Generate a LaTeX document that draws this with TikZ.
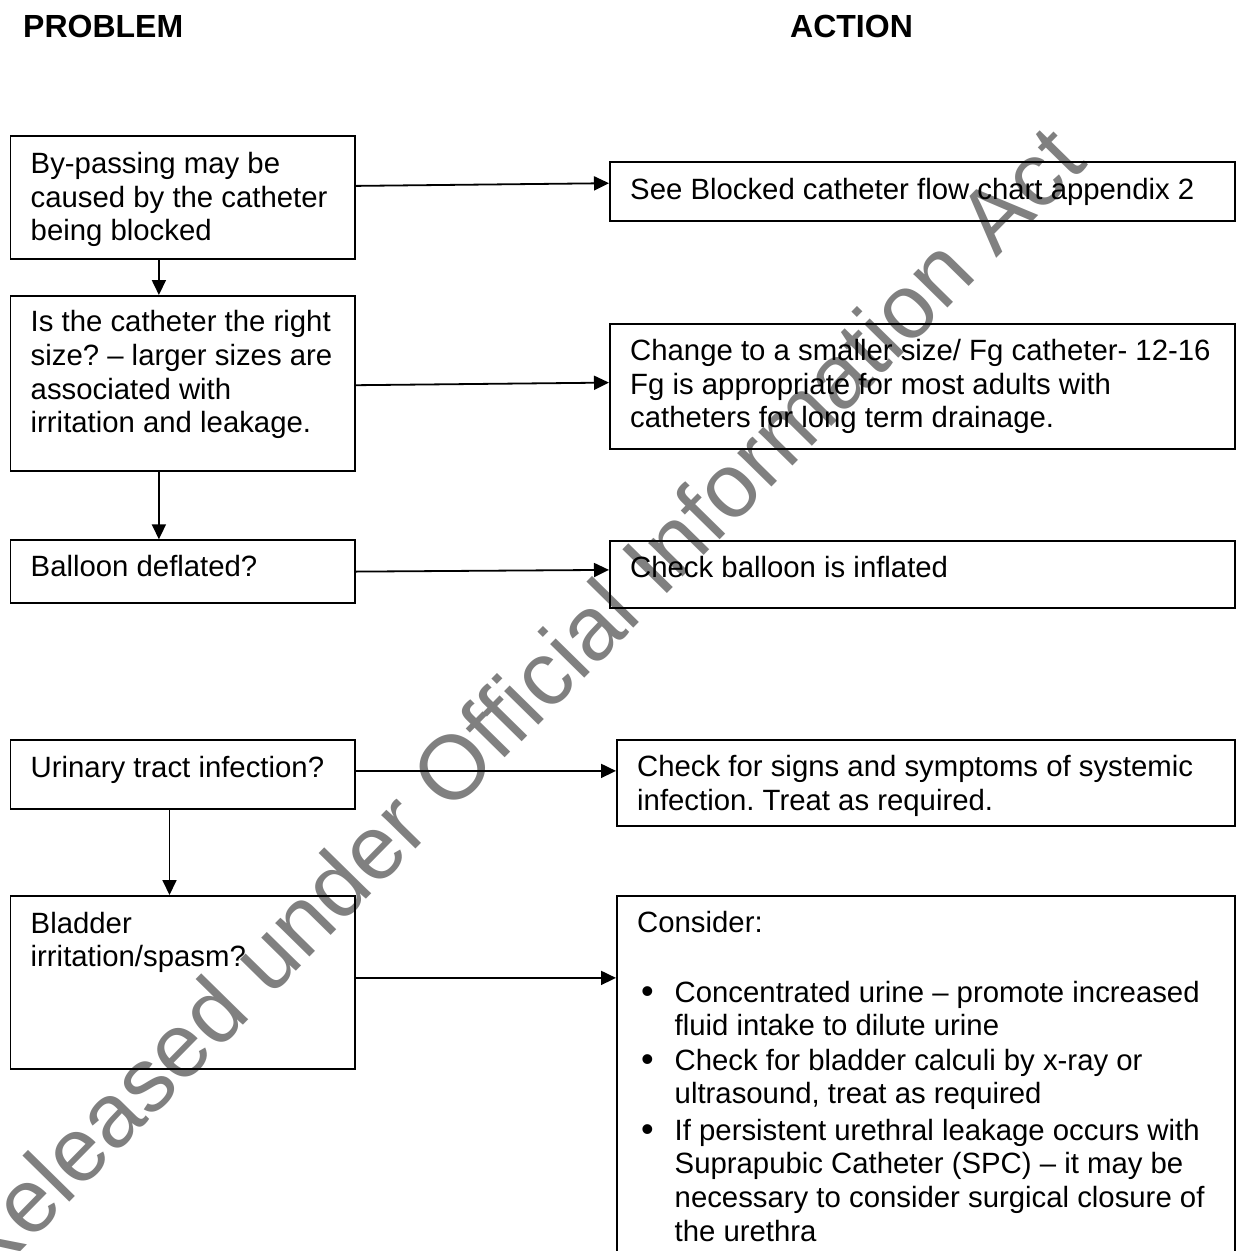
\documentclass[tikz,border=0pt]{standalone}
\usepackage{fontspec}
\setmainfont{Liberation Sans}
\usetikzlibrary{arrows.meta}
\definecolor{wmgray}{RGB}{128,128,128}
\frenchspacing
\newcommand\bodyfont{\fontsize{29.33pt}{33.7pt}\selectfont}
\newcommand\headfont{\fontsize{32pt}{36pt}\selectfont\bfseries}
\newcommand\boxtext[1]{\parbox[t]{600pt}{\bodyfont\raggedright #1}}

\begin{document}
\begin{tikzpicture}[x=1pt,y=-1pt,
  box/.style={draw, line width=1.8pt, inner sep=0pt, anchor=north west},
  txt/.style={anchor=base west, inner sep=0pt},
  arr/.style={line width=1.8pt, -{Triangle[length=15pt,width=14pt]}},
  bul/.style={txt, font=\fontsize{36pt}{40pt}\selectfont},
]
\clip (0,0) rectangle (1243,1251);
\fill[white] (0,0) rectangle (1243,1251);

% watermark across the page
\node[txt, rotate=45.5, text=wmgray, font=\fontsize{90.7pt}{100pt}\selectfont] (wm) at (-16,1289) {Released under Official Information Act};

% column headings
\node[txt, font=\headfont] (hp) at (23,37) {PROBLEM};
\node[txt, font=\headfont] (ha) at (790,37) {ACTION};

% problem column
\node[box, minimum width=344.5pt, minimum height=123pt]   (a1) at (9.5,135) {};
\node[box, minimum width=344.5pt, minimum height=175pt]   (a2) at (9.5,295) {};
\node[box, minimum width=344.5pt, minimum height=62.4pt]  (a3) at (9.5,539.3) {};
\node[box, minimum width=344.5pt, minimum height=69pt]    (a4) at (9.5,739) {};
\node[box, minimum width=344.5pt, minimum height=173pt]   (a5) at (9.5,895) {};

\node[txt] (a1t) at (30.5,173.3) {\boxtext{By-passing may be\\caused by the catheter\\being blocked}};
\node[txt] (a2t) at (30.5,331.7) {\boxtext{Is the catheter the right\\size? – larger sizes are\\associated with\\irritation and leakage.}};
\node[txt] (a3t) at (30.5,576.7) {\boxtext{Balloon deflated?}};
\node[txt] (a4t) at (30.5,777.5) {\boxtext{Urinary tract infection?}};
\node[txt] (a5t) at (30.5,933) {\boxtext{Bladder\\irritation/spasm?}};

% action column
\node[box, minimum width=625pt, minimum height=59pt]    (b1) at (609,161) {};
\node[box, minimum width=625pt, minimum height=124.7pt] (b2) at (609,323.3) {};
\node[box, minimum width=625pt, minimum height=67.3pt]  (b3) at (609,540) {};
\node[box, minimum width=618pt, minimum height=85.8pt]  (b4) at (616,739) {};
\node[box, minimum width=618pt, minimum height=405pt]   (b5) at (616,895) {};

\node[txt] (b1t) at (630,199) {\boxtext{See Blocked catheter flow chart appendix 2}};
\node[txt] (b2t) at (630,360.3) {\boxtext{Change to a smaller size/ Fg catheter- 12-16\\Fg is appropriate for most adults with\\catheters for long term drainage.}};
\node[txt] (b3t) at (630,577.5) {\boxtext{Check balloon is inflated}};
\node[txt] (b4t) at (637,776.8) {\boxtext{Check for signs and symptoms of systemic\\infection. Treat as required.}};
\node[txt] (b5t) at (637,932) {\boxtext{Consider:}};

\node[bul] (d1) at (641,1003) {•};
\node[bul] (d2) at (641,1071) {•};
\node[bul] (d3) at (641,1141) {•};
\node[txt] (i1) at (674.5,1002) {\boxtext{Concentrated urine – promote increased\\fluid intake to dilute urine}};
\node[txt] (i2) at (674.5,1070) {\boxtext{Check for bladder calculi by x-ray or\\ultrasound, treat as required}};
\node[txt] (i3) at (674.5,1140) {\boxtext{If persistent urethral leakage occurs with\\Suprapubic Catheter (SPC) – it may be\\necessary to consider surgical closure of\\the urethra}};

% connectors
\draw[arr] ([yshift=11.5pt]a1.east) -- ([yshift=8.2pt]b1.west);
\draw[arr] ([yshift=-1.8pt]a2.east) -- ([yshift=3.95pt]b2.west);
\draw[arr] ([yshift=-0.2pt]a3.east) -- ([yshift=4.65pt]b3.west);
\draw[arr] ([yshift=3.5pt]a4.east) -- ([yshift=11.9pt]b4.west);
\draw[arr] ([yshift=4.5pt]a5.east) -- ([yshift=120.5pt]b5.west);

\draw[arr] ([xshift=-23.75pt]a1.south) -- ([xshift=-23.75pt]a2.north);
\draw[arr] ([xshift=-23.75pt]a2.south) -- ([xshift=-23.75pt]a3.north);
\draw[arr] ([xshift=-13.15pt]a4.south) -- ([xshift=-13.15pt]a5.north);
\end{tikzpicture}
\end{document}
